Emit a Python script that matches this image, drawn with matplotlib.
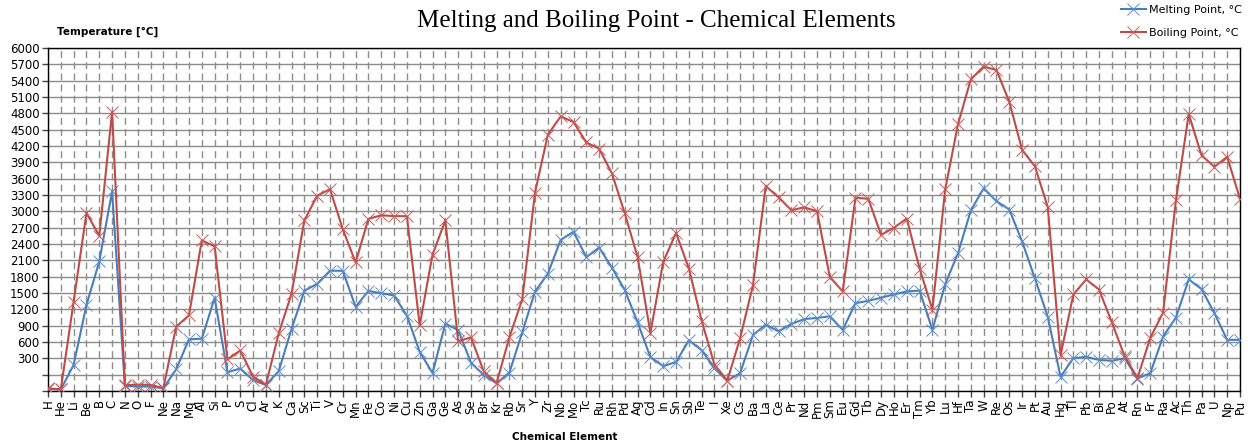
import matplotlib
matplotlib.use("Agg")
import matplotlib.pyplot as plt
import numpy as np

# element symbols, H .. Pu
elements = ["H", "He", "Li", "Be", "B", "C", "N", "O", "F", "Ne", "Na", "Mg", "Al", "Si",
            "P", "S", "Cl", "Ar", "K", "Ca", "Sc", "Ti", "V", "Cr", "Mn", "Fe", "Co", "Ni",
            "Cu", "Zn", "Ga", "Ge", "As", "Se", "Br", "Kr", "Rb", "Sr", "Y", "Zr", "Nb", "Mo",
            "Tc", "Ru", "Rh", "Pd", "Ag", "Cd", "In", "Sn", "Sb", "Te", "I", "Xe", "Cs", "Ba",
            "La", "Ce", "Pr", "Nd", "Pm", "Sm", "Eu", "Gd", "Tb", "Dy", "Ho", "Er", "Tm", "Yb",
            "Lu", "Hf", "Ta", "W", "Re", "Os", "Ir", "Pt", "Au", "Hg", "Tl", "Pb", "Bi", "Po",
            "At", "Rn", "Fr", "Ra", "Ac", "Th", "Pa", "U", "Np", "Pu"]

melting = [-259, -272, 180, 1278, 2079, 3367, -210, -218, -220, -249, 98, 650, 660, 1410,
           44, 113, -101, -189, 64, 839, 1541, 1668, 1910, 1907, 1246, 1538, 1495, 1455,
           1085, 420, 30, 938, 817, 221, -7, -157, 39, 777, 1526, 1855, 2477, 2623,
           2157, 2334, 1964, 1555, 962, 321, 157, 232, 631, 450, 114, -112, 28, 727,
           920, 795, 931, 1021, 1042, 1072, 822, 1313, 1356, 1412, 1474, 1529, 1545, 824,
           1663, 2233, 3017, 3422, 3186, 3033, 2446, 1768, 1064, -39, 304, 327, 271, 254,
           302, -71, 27, 700, 1050, 1750, 1572, 1132, 640, 640]

boiling = [-253, -269, 1342, 2970, 2550, 4827, -196, -183, -188, -246, 883, 1090, 2467, 2355,
           280, 445, -35, -186, 759, 1484, 2832, 3287, 3407, 2672, 2061, 2862, 2927, 2913,
           2910, 907, 2204, 2833, 614, 685, 59, -153, 688, 1382, 3345, 4409, 4744, 4639,
           4265, 4150, 3695, 2963, 2162, 767, 2072, 2602, 1950, 988, 184, -108, 671, 1640,
           3464, 3257, 3020, 3074, 3000, 1794, 1529, 3250, 3230, 2567, 2700, 2868, 1950, 1196,
           3402, 4603, 5425, 5660, 5596, 5012, 4130, 3825, 3080, 357, 1473, 1749, 1564, 962,
           337, -62, 677, 1140, 3200, 4788, 4027, 3818, 4000, 3228]

blue = "#4A7EBB"
red = "#BE4B48"

fig = plt.figure(figsize=(12.58, 4.45), dpi=100)
ax = fig.add_axes([48 / 1258, 54 / 445, (1240 - 48) / 1258, (391 - 48) / 445])

x = np.arange(len(elements))
ax.plot(x, melting, '-', color=blue, lw=1.5, marker='x', ms=8, mew=0.7,
        mec="#5b8fd0", label="Melting Point, °C", zorder=3)
ax.plot(x, boiling, '-', color=red, lw=1.5, marker='x', ms=8, mew=0.7,
        mec="#cc5a57", label="Boiling Point, °C", zorder=3)

ax.set_xlim(0, len(elements) - 1)
ax.set_ylim(-300, 6000)

yt = np.arange(-300, 6001, 300)
ax.set_yticks(yt)
ax.set_yticklabels([str(v) if v > 0 else "" for v in yt], fontsize=8.5)
ax.set_xticks(x)
ax.set_xticklabels(elements, rotation=90, fontsize=8.5)

ax.grid(axis='y', color='#8c8c8c', lw=1.0, ls='-', zorder=0)
ax.grid(axis='x', color='#8c8c8c', lw=1.0, ls=(0, (5, 3)), zorder=0)
ax.set_axisbelow(True)
ax.tick_params(axis='both', direction='out', length=4, width=1, color='#444444', pad=2)
for s in ax.spines.values():
    s.set_color('black')
    s.set_linewidth(1.0)

fig.text(0.522, 0.953, "Melting and Boiling Point - Chemical Elements",
         family="Liberation Serif", fontsize=18, ha='center', va='center')
fig.text(57 / 1258, 1 - 32 / 445, "Temperature [°C]", fontsize=7.5, fontweight='bold',
         ha='left', va='center')
fig.text(565 / 1258, 1 - 437 / 445, "Chemical Element", fontsize=7.5, fontweight='bold',
         ha='center', va='center')

fig.legend(loc='upper right', bbox_to_anchor=(0.995, 1.012), frameon=False, fontsize=8,
           handlelength=2.2, labelspacing=1.2, handletextpad=0.3)

plt.savefig('out.png')
